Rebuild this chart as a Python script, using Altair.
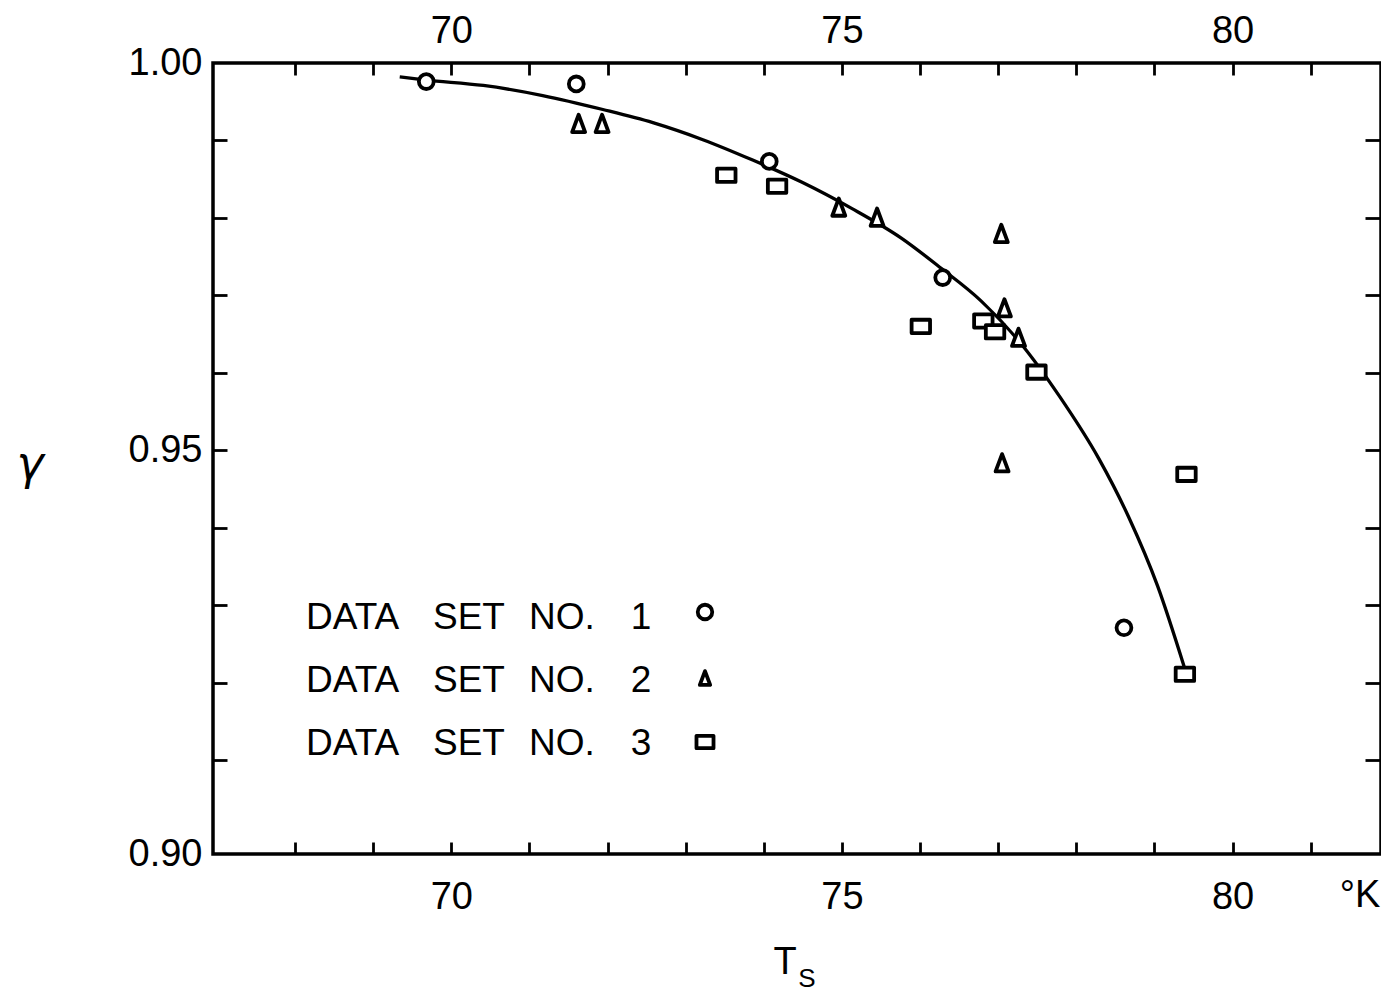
import altair as alt
import pandas as pd

# ---------------- data ----------------
set1_T = [69.68, 71.60, 74.07, 76.29, 78.61]
set1_g = [0.9976, 0.9973, 0.9873, 0.9723, 0.9271]

set2_T = [71.63, 71.93, 74.96, 75.45, 77.04, 77.08, 77.26, 77.05]
set2_g = [0.9922, 0.9922, 0.9814, 0.9801, 0.9780, 0.9684, 0.9646, 0.9484]

set3_T = [73.52, 74.17, 76.01, 76.81, 76.96, 77.49, 79.41, 79.39]
set3_g = [0.9855, 0.9841, 0.9660, 0.9667, 0.9653, 0.9601, 0.9469, 0.9211]

curve_T = [69.34, 69.68, 70.41, 71.17, 71.94, 72.58, 73.22, 73.85, 74.49, 75.13,
           75.76, 76.27, 76.78, 77.29, 77.79, 78.29, 78.67, 79.04, 79.38]
curve_g = [0.9982, 0.9978, 0.9971, 0.9958, 0.9940, 0.9923, 0.9901, 0.9875, 0.9846, 0.9812,
           0.9774, 0.9735, 0.9693, 0.9638, 0.9569, 0.9489, 0.9414, 0.9325, 0.9221]

x_domain = [66.95, 81.9]
y_domain = [0.8979, 1.0]
x_label_values = [70, 75, 80]
x_tick_values = [68, 69, 70, 71, 72, 73, 74, 75, 76, 77, 78, 79, 80, 81]
y_tick_values = [0.91, 0.92, 0.93, 0.94, 0.95, 0.96, 0.97, 0.98, 0.99]
y_label_values = [0.8979, 0.95, 1.0]   # bottom edge of the frame carries "0.90"

legend_numbers = ["1", "2", "3"]
legend_words = ["DATA", "SET", "NO."]
y_title = "γ"
x_title_main = "T"
x_title_sub = "S"
x_unit = "°K"

# ---------------- styling / layout ----------------
W, H = 1168, 791
FONT = "Liberation Sans"
TRI = "M0,-1L0.75,1L-0.75,1Z"
RECT = "M-1,-0.72L1,-0.72L1,0.72L-1,0.72Z"

xs = alt.Scale(domain=x_domain, nice=False, zero=False)
ys = alt.Scale(domain=y_domain, nice=False, zero=False)

common = dict(grid=False, domain=False, title=None, labelFont=FONT, labelFontSize=38,
              labelColor="black", tickColor="black", tickWidth=2.8, labelOverlap=False,
              labelFlush=False)

ax_x_bottom_labels = alt.Axis(orient="bottom", values=x_label_values, ticks=False, tickSize=0,
                              labelPadding=24, format="d", **common)
ax_x_top_labels = alt.Axis(orient="top", values=x_label_values, ticks=False, tickSize=0,
                           labelPadding=13, format="d", **common)
ax_x_ticks_bottom = alt.Axis(orient="top", offset=-H, values=x_tick_values, labels=False,
                             tickSize=12, **common)
ax_x_ticks_top = alt.Axis(orient="bottom", offset=-H, values=x_tick_values, labels=False,
                          tickSize=12, **common)
ax_y_labels = alt.Axis(orient="left", values=y_label_values, ticks=False, tickSize=0,
                       labelPadding=11,
                       labelExpr="datum.value < 0.9 ? '0.90' : format(datum.value, '.2f')",
                       **common)
ax_y_ticks_left = alt.Axis(orient="right", offset=-W, values=y_tick_values, labels=False,
                           tickSize=14, **common)
ax_y_ticks_right = alt.Axis(orient="left", offset=-W, values=y_tick_values, labels=False,
                            tickSize=16, **common)

curve_df = pd.DataFrame({"T": curve_T, "g": curve_g})
s1 = pd.DataFrame({"T": set1_T, "g": set1_g})
s2 = pd.DataFrame({"T": set2_T, "g": set2_g})
s3 = pd.DataFrame({"T": set3_T, "g": set3_g})

curve = alt.Chart(curve_df).mark_line(color="black", strokeWidth=3.3, interpolate="monotone").encode(
    x=alt.X("T:Q", scale=xs, axis=ax_x_bottom_labels),
    y=alt.Y("g:Q", scale=ys, axis=ax_y_labels),
)

pt_style = dict(filled=False, color="black", stroke="black", strokeWidth=3.8, opacity=1,
                strokeJoin="round", fill="white", fillOpacity=1)

p1 = alt.Chart(s1).mark_point(shape="circle", size=220, **pt_style).encode(
    x=alt.X("T:Q", scale=xs, axis=ax_x_top_labels),
    y=alt.Y("g:Q", scale=ys, axis=ax_y_ticks_left),
)
p2 = alt.Chart(s2).mark_point(shape=TRI, size=300, **pt_style).encode(
    x=alt.X("T:Q", scale=xs, axis=ax_x_ticks_bottom),
    y=alt.Y("g:Q", scale=ys, axis=ax_y_ticks_right),
)
p3 = alt.Chart(s3).mark_point(shape=RECT, size=340, **pt_style).encode(
    x=alt.X("T:Q", scale=xs, axis=ax_x_ticks_top),
    y=alt.Y("g:Q", scale=ys, axis=None),
)


def txt(s, x, y, size, align="center", **kw):
    return alt.Chart(pd.DataFrame({"t": [s]})).mark_text(
        font=kw.pop("font", FONT), fontSize=size, color="black", align=align,
        baseline="middle", **kw
    ).encode(x=alt.value(x), y=alt.value(y), text="t:N")


texts = [
    txt(y_title, -183, 402, 46, font="DejaVu Sans", fontStyle="italic"),
    txt(x_title_main, 572, 900, 38),
    txt(x_title_sub, 594, 916, 26),
    txt(x_unit, 1147, 833, 38),
]

# legend (drawn inside the plot, lower left)
legend_x = [93, 220, 316]
num_x = 428
sym_x = 492
row_y = [555, 618, 681]
sym_y = [549, 615, 679]
sym_shapes = ["circle", TRI, RECT]
sym_sizes = [210, 190, 290]
for i, num in enumerate(legend_numbers):
    for w, xx in zip(legend_words, legend_x):
        texts.append(txt(w, xx, row_y[i], 37, align="left"))
    texts.append(txt(num, num_x, row_y[i], 37))
    texts.append(
        alt.Chart(pd.DataFrame({"t": [num]})).mark_point(
            shape=sym_shapes[i], size=sym_sizes[i], **pt_style
        ).encode(x=alt.value(sym_x), y=alt.value(sym_y[i]))
    )

chart = alt.layer(curve, p1, p2, p3, *texts).resolve_axis(
    x="independent", y="independent"
).resolve_scale(x="shared", y="shared").properties(
    width=W, height=H,
    autosize=alt.AutoSizeParams(type="none"),
    padding={"left": 205, "top": 55, "right": 0, "bottom": 140},
    background="white",
).configure_view(
    stroke="black", strokeWidth=3.5
)

chart.save("out.html", embed_options={"renderer": "svg", "actions": False})
